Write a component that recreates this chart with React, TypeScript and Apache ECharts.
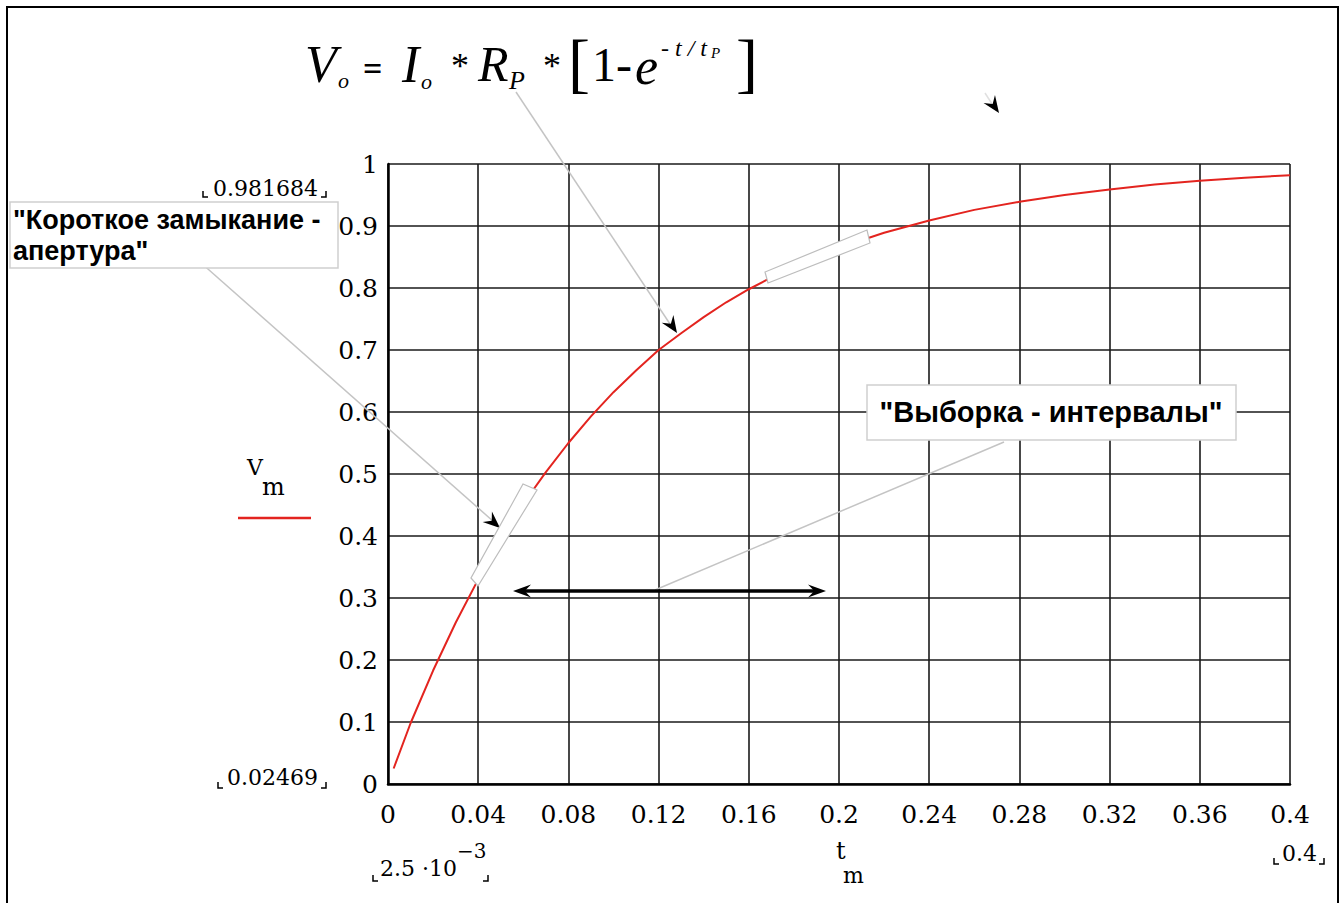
import React, { useEffect, useRef } from "react";
import * as echarts from "echarts";

// time samples (s) and voltage
const T_VALUES = [0.0025, 0.01, 0.02, 0.03, 0.04, 0.05, 0.06, 0.07, 0.08, 0.09, 0.10, 0.11, 0.12, 0.13, 0.14, 0.15, 0.16, 0.17, 0.18, 0.19, 0.20, 0.22, 0.24, 0.26, 0.28, 0.30, 0.32, 0.34, 0.36, 0.38, 0.40];
const V_VALUES = [0.025, 0.098, 0.183, 0.26, 0.33, 0.395, 0.452, 0.503, 0.55, 0.593, 0.632, 0.667, 0.70, 0.727, 0.753, 0.777, 0.798, 0.817, 0.835, 0.85, 0.865, 0.889, 0.909, 0.926, 0.939, 0.95, 0.959, 0.967, 0.973, 0.978, 0.982];

const X_MIN = 0, X_MAX = 0.4, X_STEP = 0.04;
const Y_MIN = 0, Y_MAX = 1, Y_STEP = 0.1;

const RED = "#e3241f";
const SERIF = '"DejaVu Serif"';
const TIMES = '"Liberation Serif"';
const SANS = '"Liberation Sans"';
const LEADER = "#c4c4c4";

function arrowHead(tx: number, ty: number, fx: number, fy: number, len = 17, hw = 7) {
  const dx = tx - fx, dy = ty - fy;
  const l = Math.hypot(dx, dy);
  const ux = dx / l, uy = dy / l;
  const px = -uy, py = ux;
  const bx = tx - ux * len, by = ty - uy * len;
  const nx = tx - ux * len * 0.65, ny = ty - uy * len * 0.65;
  return {
    type: "polygon", z: 100,
    shape: { points: [[tx, ty], [bx + px * hw, by + py * hw], [nx, ny], [bx - px * hw, by - py * hw]] },
    style: { fill: "#000" },
  };
}

function txt(x: number, y: number, text: string, font: string, align = "left") {
  return { type: "text", z: 100, x, y, style: { text, font, fill: "#000", textAlign: align, textVerticalAlign: "middle" } };
}

function line(x1: number, y1: number, x2: number, y2: number, stroke: string, w: number) {
  return { type: "line", z: 100, shape: { x1, y1, x2, y2 }, style: { stroke, lineWidth: w } };
}

function brackets(xl: number, xr: number, yb: number) {
  return [
    { type: "polyline", z: 100, shape: { points: [[xl, yb - 6], [xl, yb], [xl + 5, yb]] }, style: { stroke: "#000", lineWidth: 1.5, fill: null } },
    { type: "polyline", z: 100, shape: { points: [[xr - 5, yb], [xr, yb], [xr, yb - 6]] }, style: { stroke: "#000", lineWidth: 1.5, fill: null } },
  ];
}

export default function App() {
  const ref = useRef<HTMLDivElement>(null);
  useEffect(() => {
    const chart = echarts.init(ref.current!, null, { renderer: "svg" });
    const data = T_VALUES.map((t, i) => [t, V_VALUES[i]]);
    const fmt = (v: number) => String(parseFloat(v.toFixed(2)));
    const graphics: any[] = [
      // page frame
      { type: "rect", z: 90, shape: { x: 7, y: 7, width: 1331, height: 930 }, style: { stroke: "#000", lineWidth: 2, fill: null } },
      // formula
      txt(305, 64, "V", `italic 52px ${TIMES}`),
      txt(338, 80, "o", `italic 22px ${TIMES}`),
      txt(363, 68, "=", `bold 34px ${TIMES}`),
      txt(402, 64, "I", `italic 52px ${TIMES}`),
      txt(421, 81, "o", `italic 22px ${TIMES}`),
      txt(451, 66, "*", `36px ${TIMES}`),
      txt(478, 64, "R", `italic 50px ${TIMES}`),
      txt(509, 80, "P", `italic 26px ${TIMES}`),
      txt(543, 66, "*", `36px ${TIMES}`),
      txt(568, 62, "[", `66px ${TIMES}`),
      txt(592, 64, "1-", `48px ${TIMES}`),
      txt(635, 66, "e", `italic 52px ${TIMES}`),
      txt(661, 48, "- t / t", `italic 24px ${TIMES}`),
      txt(711, 53, "P", `italic 15px ${TIMES}`),
      txt(736, 62, "]", `66px ${TIMES}`),
      // leader lines
      line(200, 262, 494, 522, LEADER, 1.5),
      line(516, 92, 672, 327, LEADER, 1.5),
      line(1004, 442, 655, 590, LEADER, 1.5),
      line(985, 93, 994, 107, "#e0e0e0", 1.5),
      arrowHead(500, 528, 200, 262),
      arrowHead(677, 333, 516, 92),
      arrowHead(999, 113, 985, 93),
      // double arrow
      line(522, 591, 818, 591, "#000", 3.5),
      arrowHead(513, 591, 560, 591, 18, 6.5),
      arrowHead(826, 591, 780, 591, 18, 6.5),
      // aperture boxes on the curve
      { type: "polygon", z: 100, shape: { points: [[471, 578], [478, 586], [537, 490], [523, 484]] }, style: { fill: "#fff", stroke: "#bdbdbd", lineWidth: 1.2 } },
      { type: "polygon", z: 100, shape: { points: [[765, 272], [768, 283], [870, 243], [867, 230]] }, style: { fill: "#fff", stroke: "#bdbdbd", lineWidth: 1.2 } },
      // annotation boxes
      { type: "rect", z: 100, shape: { x: 10, y: 202, width: 328, height: 66 }, style: { fill: "#fff", stroke: "#cfcfcf", lineWidth: 1.5 } },
      txt(13, 220, "\"Короткое замыкание -", `bold 27px ${SANS}`),
      txt(13, 251, "апертура\"", `bold 27px ${SANS}`),
      { type: "rect", z: 100, shape: { x: 867, y: 385, width: 369, height: 55 }, style: { fill: "#fff", stroke: "#cfcfcf", lineWidth: 1.5 } },
      txt(1051, 412, "\"Выборка - интервалы\"", `bold 29px ${SANS}`, "center"),
      // range labels
      txt(318, 188, "0.981684", `22px ${SERIF}`, "right"),
      ...brackets(203, 326, 197),
      txt(318, 777, "0.02469", `22px ${SERIF}`, "right"),
      ...brackets(218, 326, 788),
      txt(380, 868, "2.5 ·10", `22px ${SERIF}`),
      txt(457, 851, "−3", `20px ${SERIF}`),
      ...brackets(373, 488, 881),
      txt(1317, 853, "0.4", `22px ${SERIF}`, "right"),
      ...brackets(1274, 1324, 864),
      // axis names
      txt(836, 851, "t", `24px ${SERIF}`),
      txt(843, 875, "m", `22px ${SERIF}`),
      txt(247, 467, "V", `22px ${SERIF}`),
      txt(262, 487, "m", `24px ${SERIF}`),
      line(238, 518, 311, 518, RED, 2.5),
    ];
    chart.setOption({
      animation: false,
      backgroundColor: "#fff",
      grid: { left: 388, top: 164, right: 51, bottom: 119, containLabel: false },
      xAxis: {
        type: "value", min: X_MIN, max: X_MAX, interval: X_STEP,
        axisLine: { show: true, lineStyle: { color: "#000", width: 2.5 } },
        axisTick: { show: false },
        splitLine: { show: true, lineStyle: { color: "#1a1a1a", width: 1.6 } },
        axisLabel: { color: "#000", fontFamily: "DejaVu Serif", fontSize: 25, margin: 18, formatter: fmt, showMinLabel: true, showMaxLabel: true },
      },
      yAxis: {
        type: "value", min: Y_MIN, max: Y_MAX, interval: Y_STEP,
        axisLine: { show: true, lineStyle: { color: "#000", width: 2.5 } },
        axisTick: { show: false },
        splitLine: { show: true, lineStyle: { color: "#1a1a1a", width: 1.6 } },
        axisLabel: { color: "#000", fontFamily: "DejaVu Serif", fontSize: 25, margin: 10, formatter: (v: number) => String(parseFloat(v.toFixed(1))) },
      },
      series: [{
        type: "line", data, showSymbol: false, symbol: "none", z: 5,
        lineStyle: { color: RED, width: 2 },
      }],
      graphic: { elements: graphics },
    });
    return () => chart.dispose();
  }, []);
  return <div ref={ref} style={{ position: "fixed", left: 0, top: 0, width: 1341, height: 903, background: "#fff" }} />;
}
